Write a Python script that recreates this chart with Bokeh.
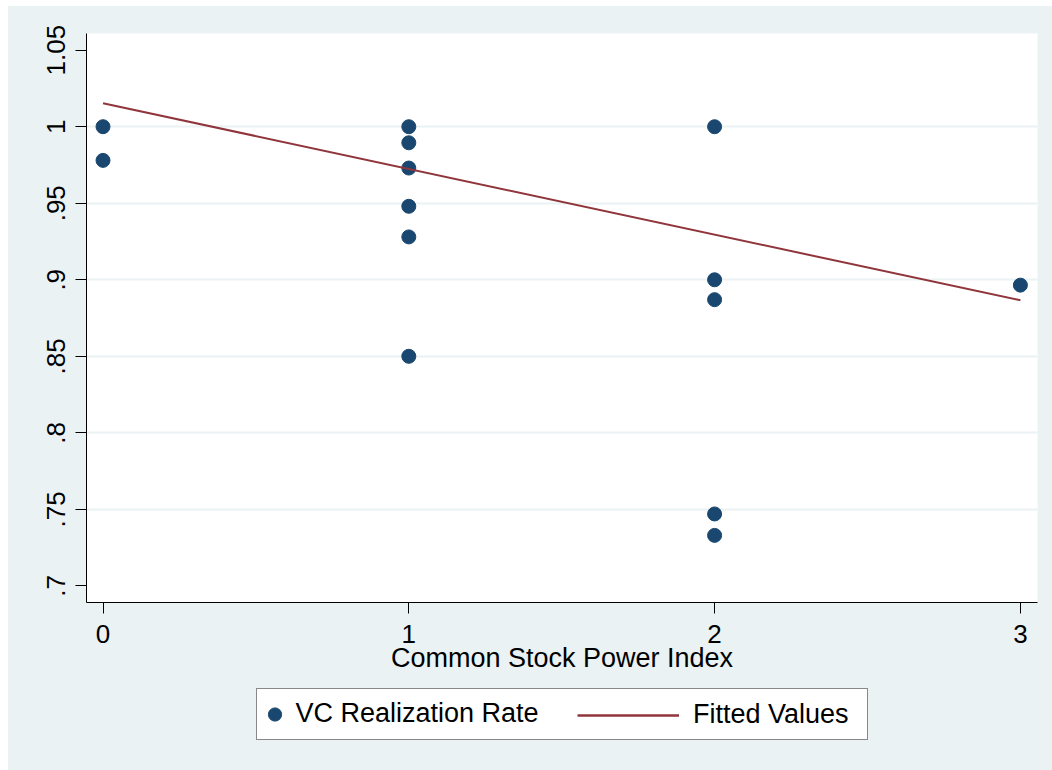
from bokeh.plotting import figure
from bokeh.models import FixedTicker, Legend, LegendItem, Range1d
from bokeh.layouts import column
from bokeh.embed import file_html
from bokeh.resources import INLINE

# ---- data ----
power_index = [0, 0, 1, 1, 1, 1, 1, 1, 2, 2, 2, 2, 2, 3]
realization_rate = [1.0, 0.978, 1.0, 0.9895, 0.973, 0.948, 0.928, 0.85,
                    1.0, 0.900, 0.887, 0.747, 0.733, 0.8965]
fitted_x = [0, 3]
fitted_y = [1.0153, 0.8866]

x_ticks = [0, 1, 2, 3]
x_tick_labels = ["0", "1", "2", "3"]
y_ticks = [0.7, 0.75, 0.8, 0.85, 0.9, 0.95, 1.0, 1.05]
y_tick_labels = [".7", ".75", ".8", ".85", ".9", ".95", "1", "1.05"]
y_grid = [0.75, 0.8, 0.85, 0.9, 0.95, 1.0]

x_title = "Common Stock Power Index"
series_names = ["VC Realization Rate", "Fitted Values"]

# ---- styling ----
FONT = "Liberation Sans"
FS_TICK = "26px"
FS = "27px"
BG = "#EAF2F3"
NAVY = "#1A476F"
MAROON = "#90353B"

p = figure(width=1044, height=677, output_backend="svg", toolbar_location=None,
           x_range=Range1d(-0.054, 3.056), y_range=Range1d(0.68915, 1.0609),
           min_border_left=78, min_border_right=15, min_border_top=27, min_border_bottom=81)

p.border_fill_color = BG
p.background_fill_color = "white"
p.outline_line_color = None

r_pts = p.scatter(power_index, realization_rate, marker="circle", size=14,
                  fill_color=NAVY, line_color=NAVY)
r_fit = p.line(fitted_x, fitted_y, line_color=MAROON, line_width=2)

# axes
for ax in (p.xaxis[0], p.yaxis[0]):
    ax.axis_line_color = "black"
    ax.axis_line_width = 1
    ax.major_tick_line_color = "black"
    ax.major_tick_out = 11
    ax.major_tick_in = 0
    ax.minor_tick_line_color = None
    ax.major_label_text_font = FONT
    ax.major_label_text_font_size = FS_TICK
    ax.major_label_text_color = "black"

p.xaxis.ticker = FixedTicker(ticks=x_ticks)
p.xaxis.major_label_overrides = dict(zip(x_ticks, x_tick_labels))
p.xaxis.major_label_standoff = 11
p.xaxis.axis_label = x_title
p.xaxis.axis_label_text_font = FONT
p.xaxis.axis_label_text_font_size = FS
p.xaxis.axis_label_text_font_style = "normal"
p.xaxis.axis_label_text_color = "black"
p.xaxis.axis_label_standoff = -3

p.yaxis.ticker = FixedTicker(ticks=y_ticks)
p.yaxis.major_label_overrides = dict(zip(y_ticks, y_tick_labels))
p.yaxis.major_label_orientation = "vertical"
p.yaxis.major_label_standoff = 10

# grid
p.xgrid.grid_line_color = None
p.ygrid.ticker = FixedTicker(ticks=y_grid)
p.ygrid.grid_line_color = BG
p.ygrid.grid_line_width = 2

# ---- legend strip below the chart ----
q = figure(width=1044, height=87, output_backend="svg", toolbar_location=None,
           x_range=Range1d(0, 1), y_range=Range1d(0, 1),
           x_axis_type=None, y_axis_type=None,
           min_border_left=0, min_border_right=0, min_border_top=0, min_border_bottom=0)
q.border_fill_color = BG
q.background_fill_color = BG
q.outline_line_color = None
q.grid.grid_line_color = None

nan = float("nan")
k_pts = q.scatter(x=[nan], y=[nan], marker="circle", size=14, fill_color=NAVY, line_color=NAVY)
k_fit = q.line(x=[nan, nan], y=[nan, nan], line_color=MAROON, line_width=2.5)

leg1 = Legend(items=[LegendItem(label=series_names[0], renderers=[k_pts])],
              location=(169.5, 30.2), orientation="horizontal",
              padding=1, margin=0, glyph_width=33, glyph_height=48,
              label_standoff=5, label_width=570,
              label_text_font=FONT, label_text_font_size=FS, label_text_color="black",
              border_line_color="#111111", border_line_width=1.6,
              background_fill_color="white", background_fill_alpha=1.0)
leg2 = Legend(items=[LegendItem(label=series_names[1], renderers=[k_fit])],
              location=(491, 31.2), orientation="horizontal",
              padding=0, margin=0, glyph_width=102, glyph_height=48,
              label_standoff=14,
              label_text_font=FONT, label_text_font_size=FS, label_text_color="black",
              border_line_color=None, background_fill_alpha=0.0)
q.add_layout(leg1, "center")
q.add_layout(leg2, "center")

layout = column(p, q, spacing=0, margin=(6, 0, 0, 8), styles={"background-color": BG})

open("out.html", "w").write(file_html(layout, INLINE))
